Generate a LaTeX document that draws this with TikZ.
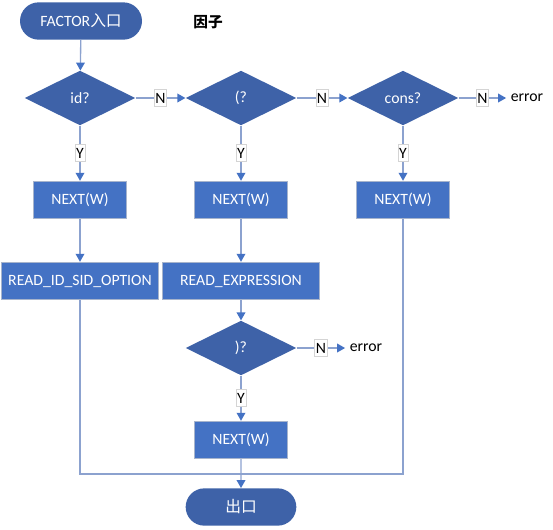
\documentclass[tikz,border=0pt]{standalone}
\usepackage{fontspec}
\setmainfont{Carlito}
\newfontfamily\cjk{Noto Sans CJK SC}
\usepackage{tikz}
\usetikzlibrary{shapes.geometric,shapes.misc,arrows.meta}
\definecolor{terminalBlue}{HTML}{3E62A8}
\definecolor{processBlue}{HTML}{4472C4}
\definecolor{boxEdge}{HTML}{A7B4CC}
\definecolor{flowLine}{HTML}{8CA2CF}
\definecolor{labelEdge}{HTML}{D4D4D4}

\begin{document}
\begin{tikzpicture}[
  x=0.75pt, y=-0.75pt,
  font=\fontsize{11.8}{13}\selectfont,
  terminal/.style={rounded rectangle, fill=terminalBlue, text=white,
    minimum width=83pt, minimum height=28pt, inner sep=0pt},
  decision/.style={diamond, fill=terminalBlue, text=white,
    minimum width=83pt, minimum height=41pt, inner sep=0pt},
  process/.style={rectangle, fill=processBlue, draw=boxEdge, line width=0.8pt,
    text=white, minimum width=70pt, minimum height=28pt},
  yesNo/.style={fill=white, draw=labelEdge, line width=0.5pt, inner xsep=0.8pt,
    inner ysep=2.5pt, text=black},
  line/.style={draw=flowLine, line width=1pt},
  flow/.style={line, -{Triangle[length=6pt,width=6.5pt,color=processBlue]}}
]
\useasboundingbox (0,0) rectangle (553,529);

\node[terminal, minimum width=91.5pt] (start) at (81,21) {FACTOR{\cjk 入口}};
\node[font=\cjk\bfseries\fontsize{11}{13}\selectfont] (title) at (208,22) {因子};

\node[decision] (isId) at (80,98) {id?};
\node[decision] (isParen) at (241,98) {(?};
\node[decision] (isCons) at (403,98) {cons?};
\node (errCons) at (527,98) {error};

\node[process] (nextId) at (80,200) {NEXT(W)};
\node[process] (nextParen) at (241,200) {NEXT(W)};
\node[process] (nextCons) at (403,200) {NEXT(W)};

\node[process, minimum width=118pt] (readId) at (80,281) {READ\_ID\_SID\_OPTION};
\node[process, minimum width=118pt] (readExpr) at (241,281) {READ\_EXPRESSION};

\node[decision] (isClose) at (241,348) {)?};
\node (errClose) at (366,348) {error};
\node[process] (nextClose) at (241,440) {NEXT(W)};

\coordinate (merge) at (241,474);
\node[terminal] (exit) at (241,507) {\cjk 出口};

\draw[flow] (start) -- (isId);
\draw[flow] (isId) -- node[yesNo] {N} (isParen);
\draw[flow] (isParen) -- node[yesNo] {N} (isCons);
\draw[flow] (isCons) -- node[yesNo] {N} (errCons);
\draw[flow] (isId) -- node[yesNo] {Y} (nextId);
\draw[flow] (isParen) -- node[yesNo] {Y} (nextParen);
\draw[flow] (isCons) -- node[yesNo] {Y} (nextCons);
\draw[flow] (nextId) -- (readId);
\draw[flow] (nextParen) -- (readExpr);
\draw[flow] (readExpr) -- (isClose);
\draw[flow] (isClose) -- node[yesNo] {N} (errClose);
\draw[flow] (isClose) -- node[yesNo] {Y} (nextClose);
\draw[line] (readId) |- (merge);
\draw[line] (nextCons) |- (merge);
\draw[flow] (nextClose) -- (exit);
\end{tikzpicture}
\end{document}
